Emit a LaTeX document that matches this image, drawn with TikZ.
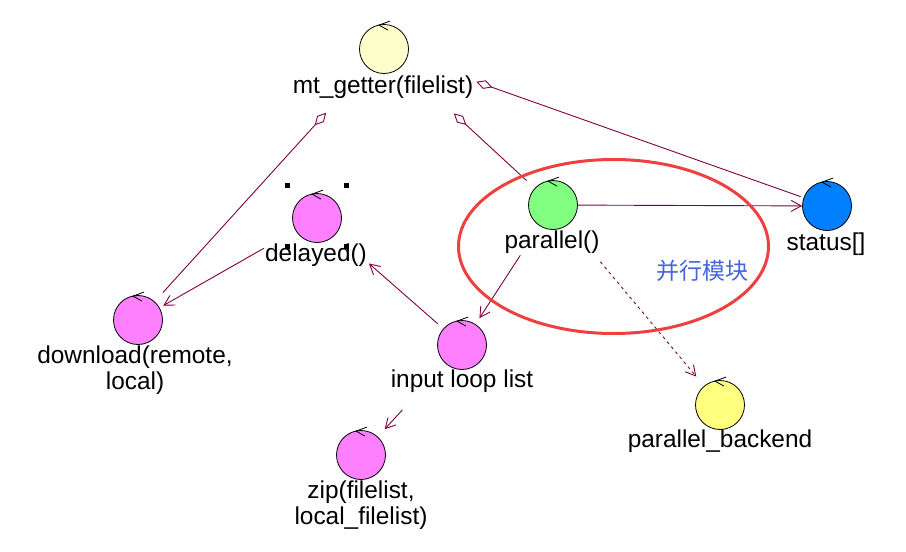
\documentclass[tikz,border=0pt]{standalone}
\usepackage{fontspec}
\setmainfont{Liberation Sans}
\newfontfamily\cjk{Noto Sans CJK SC}
\usetikzlibrary{arrows.meta,shapes.geometric,calc}
\definecolor{connc}{RGB}{128,0,64}
\definecolor{ellred}{RGB}{238,64,64}
\definecolor{zhblue}{RGB}{70,100,225}
\definecolor{paleyel}{RGB}{255,255,204}
\definecolor{yel}{RGB}{255,255,128}
\definecolor{pinkc}{RGB}{255,128,255}
\definecolor{greenc}{RGB}{128,255,128}
\definecolor{bluec}{RGB}{0,128,255}
\begin{document}
\begin{tikzpicture}[x=1pt,y=-1pt,
  ctl/.style={circle,draw=black,line width=0.8pt,minimum size=49pt,inner sep=0pt},
  lbl/.style={font=\fontsize{24.4}{26}\selectfont,align=center,inner sep=0pt,text=black},
  ctlmark/.style={draw=black,line width=0.8pt},
  link/.style={draw=connc,line width=0.9pt},
  agg/.style={link,arrows={Diamond[open,length=17pt,width=9pt]-}},
  arr/.style={link,arrows={-Straight Barb[length=10pt,width=11pt]}},
  dep/.style={arr,dash pattern=on 3pt off 3.5pt},
  selsq/.style={rectangle,fill=black,minimum size=5pt,inner sep=0pt},
  grpell/.style={ellipse,draw=ellred,line width=3pt,minimum width=310pt,minimum height=174pt,inner sep=0pt},
  zh/.style={font=\cjk\fontsize{23}{25}\selectfont,text=zhblue,inner sep=0pt}
]
\useasboundingbox (0,0) rectangle (906,552);

% class icons
\node[ctl,fill=paleyel] (mt)  at (384,49)  {};
\node[ctl,fill=pinkc]   (dly) at (317,218) {};
\node[ctl,fill=greenc]  (par) at (553,205) {};
\node[ctl,fill=bluec]   (st)  at (827,206) {};
\node[ctl,fill=pinkc]   (dl)  at (138,320) {};
\node[ctl,fill=pinkc]   (ilp) at (462,345) {};
\node[ctl,fill=pinkc]   (zip) at (361,455) {};
\node[ctl,fill=yel]     (pb)  at (720,405) {};

\foreach \n in {mt,dly,par,st,dl,ilp,zip,pb}{
  \draw[ctlmark] ($(\n.north)+(6,-3)$) -- ($(\n.north)+(-5,1)$) -- ($(\n.north)+(4,6)$);
}

% labels
\node[lbl] (mtl)  at (383,87)  {mt\_getter(filelist)};
\node[lbl] (dlyl) at (316,255) {delayed()};
\node[lbl] (parl) at (552,242) {parallel()};
\node[lbl] (stl)  at (826,244) {status[]};
\node[lbl] (dll)  at (135,370) {download(remote,\\local)};
\node[lbl] (ilpl) at (462,381) {input loop list};
\node[lbl] (zipl) at (361,505) {zip(filelist,\\local\_filelist)};
\node[lbl] (pbl)  at (720,441) {parallel\_backend};

% selection handles
\node[selsq] (sq1) at (287,185) {};
\node[selsq] (sq2) at (346,185) {};
\node[selsq] (sq3) at (287,246) {};
\node[selsq] (sq4) at (346,246) {};

% connectors
\draw[agg,shorten <=86pt,shorten >=37pt] (mt.center) -- (dl.center);
\draw[agg,shorten <=95pt,shorten >=36pt] (mt.center) -- (par.center);
\draw[agg,shorten <=98pt,shorten >=28pt] (mt.center) -- (st.center);
\draw[arr] (par) -- (st);
\draw[arr,shorten <=60pt,shorten >=32pt] (par.center) -- (ilp.center);
\draw[arr,shorten <=32pt,shorten >=69pt] (ilp.center) -- (dly.center);
\draw[arr,shorten <=61pt,shorten >=29pt] (dly.center) -- (dl.center);
\draw[arr,shorten <=88pt,shorten >=35pt] (ilp.center) -- (zip.center);
\draw[dep,shorten <=74pt,shorten >=37pt] (par.center) -- (pb.center);

% group ellipse and note
\node[grpell] (grp) at (613.5,246.5) {};
\node[zh] (zhl) at (702,271) {并行模块};
\end{tikzpicture}
\end{document}
